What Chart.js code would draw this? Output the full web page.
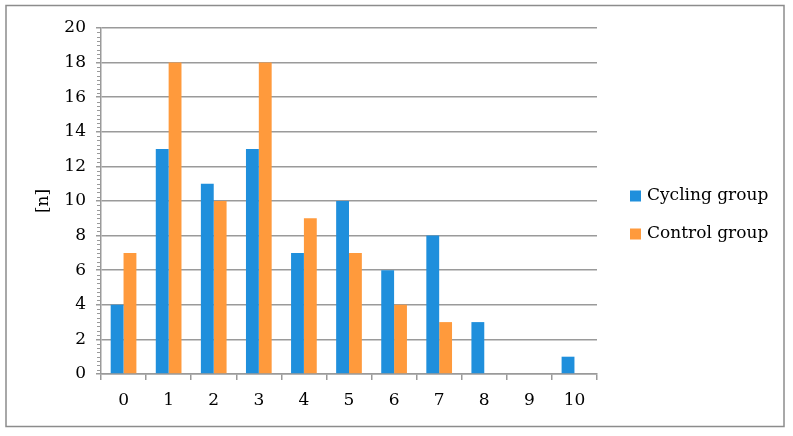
<!DOCTYPE html>
<html>
<head>
<meta charset="utf-8">
<script src="https://cdn.jsdelivr.net/npm/chart.js@4.4.0/dist/chart.umd.min.js"></script>
<style>
  html, body { margin: 0; padding: 0; background: #fff; }
  #wrap { width: 793px; height: 436px; }
</style>
</head>
<body>
<div id="wrap"><canvas id="barChart" width="793" height="436"></canvas></div>
<script>
const categories = ['0', '1', '2', '3', '4', '5', '6', '7', '8', '9', '10'];
const cyclingGroup = [4, 13, 11, 13, 7, 10, 6, 8, 3, 0, 1];
const controlGroup = [7, 18, 10, 18, 9, 7, 4, 3, 0, 0, 0];
const seriesNames = ['Cycling group', 'Control group'];

const FONT = "'DejaVu Serif', 'Liberation Serif', serif";
const GRID = '#9a9a9a';

// outer frame + minor ticks on the y axis + legend on the right
const extras = {
  id: 'extras',
  beforeDraw(chart) {
    const c = chart.ctx;
    c.save();
    c.fillStyle = '#fff';
    c.fillRect(0, 0, chart.width, chart.height);
    c.restore();
  },
  afterDraw(chart) {
    const c = chart.ctx;
    const y = chart.scales.y;
    c.save();
    c.strokeStyle = '#8c8c8c';
    c.lineWidth = 1.5;
    c.strokeRect(6, 5.5, 778, 421);

    // minor ticks every 0.25
    c.strokeStyle = GRID;
    c.lineWidth = 1;
    for (let v = 0; v <= 20; v += 0.25) {
      if (v % 2 === 0) continue;
      const py = Math.round(y.getPixelForValue(v)) + 0.5;
      c.beginPath();
      c.moveTo(y.right - 4, py);
      c.lineTo(y.right, py);
      c.stroke();
    }

    // legend
    c.font = '17px ' + FONT;
    c.textBaseline = 'middle';
    chart.data.datasets.forEach((ds, i) => {
      const ly = 196 + i * 38;
      c.fillStyle = ds.backgroundColor;
      c.fillRect(630, ly - 5.5, 11, 11);
      c.fillStyle = '#000';
      c.fillText(ds.label, 647, ly);
    });
    c.restore();
  }
};

new Chart(document.getElementById('barChart'), {
  type: 'bar',
  data: {
    labels: categories,
    datasets: [
      { label: seriesNames[0], data: cyclingGroup, backgroundColor: '#1f8fdc' },
      { label: seriesNames[1], data: controlGroup, backgroundColor: '#ff9a3c' }
    ]
  },
  options: {
    responsive: false,
    animation: false,
    events: [],
    layout: { padding: { top: 28, right: 196, bottom: 0, left: 0 } },
    datasets: { bar: { categoryPercentage: 0.57, barPercentage: 1.0 } },
    plugins: { legend: { display: false }, tooltip: { enabled: false } },
    scales: {
      x: {
        grid: { display: true, drawOnChartArea: false, drawTicks: true, tickLength: 6, color: GRID, lineWidth: 1.5, offset: true },
        border: { color: GRID, width: 1.5 },
        ticks: { color: '#000', font: { family: FONT, size: 17 }, padding: 10 },
        afterFit: s => { s.height = 62; }
      },
      y: {
        min: 0, max: 20,
        ticks: { stepSize: 2, color: '#000', font: { family: FONT, size: 17 }, padding: 10 },
        grid: { color: GRID, lineWidth: 1.5, tickLength: 5 },
        border: { color: GRID, width: 1.5 },
        title: { display: true, text: '[n]', color: '#000', font: { family: FONT, size: 17 }, padding: { top: 33, bottom: 0 } },
        afterFit: s => { s.width = 101; }
      }
    }
  },
  plugins: [extras]
});
</script>
</body>
</html>
